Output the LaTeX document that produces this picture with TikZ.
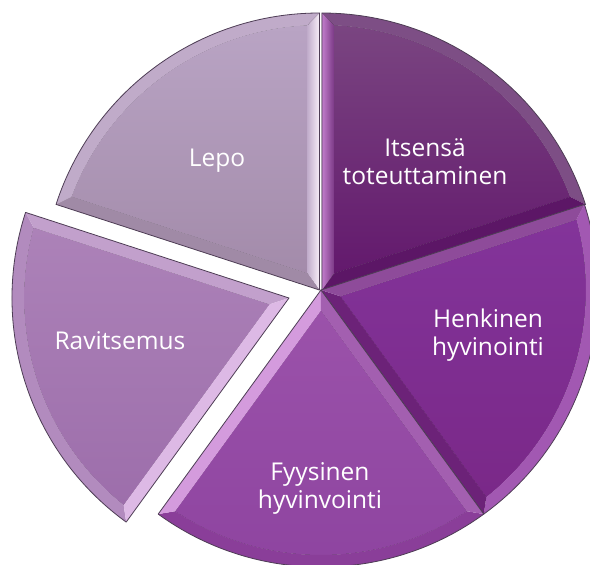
\documentclass[tikz,border=0pt]{standalone}
\usepackage{fontspec}
\setmainfont{Open Sans}
\definecolor{lepoT}{HTML}{B9A4C4}
\definecolor{lepoB}{HTML}{A38BAA}
\definecolor{lepoArc}{HTML}{C0ABC9}
\definecolor{lepoR1}{HTML}{C2AECC}
\definecolor{lepoR2}{HTML}{F8EEF8}
\definecolor{lepoLow}{HTML}{A08AA6}
\definecolor{itsT}{HTML}{7A4581}
\definecolor{itsB}{HTML}{63196D}
\definecolor{itsArc}{HTML}{7D4E85}
\definecolor{itsLow}{HTML}{5C1666}
\definecolor{itsL1}{HTML}{C17CCB}
\definecolor{itsL2}{HTML}{7B3A86}
\definecolor{henT}{HTML}{83349A}
\definecolor{henB}{HTML}{7A2888}
\definecolor{henArc}{HTML}{A258B2}
\definecolor{henLow}{HTML}{6C2278}
\definecolor{henTop}{HTML}{8E4B9A}
\definecolor{fyyT}{HTML}{9B52AA}
\definecolor{fyyB}{HTML}{8E44A0}
\definecolor{fyyArc}{HTML}{8A3E99}
\definecolor{fyyL}{HTML}{D49BDD}
\definecolor{fyyR}{HTML}{A35FB0}
\definecolor{ravT}{HTML}{AC82B8}
\definecolor{ravB}{HTML}{9D6EAB}
\definecolor{ravArc}{HTML}{B28BBE}
\definecolor{ravTop}{HTML}{C2A0CC}
\definecolor{ravR}{HTML}{DDB9E5}
\definecolor{edge}{HTML}{4E3D55}
\begin{document}
\begin{tikzpicture}[x=1pt,y=1pt,
  outline/.style={draw=edge,line width=0.8pt,line join=round},
  lbl/.style={text=white,align=center,font=\fontsize{24.5}{28}\selectfont,inner sep=0pt}]
\def\R{277}
\def\T{12}
\pgfmathsetmacro\RI{\R-\T}
\pgfmathsetmacro\D{asin(\T/\RI)}
\pgfmathsetmacro\PA{\T/sin(36)}
\newcommand\pieslice[7]{%
 \begin{scope}[shift={(#1)}]
  \pgfmathsetmacro\am{(#2+#3)/2}
  \pgfmathsetmacro\ba{#2+\D}
  \pgfmathsetmacro\bb{#3-\D}
  \fill[#4] (\am:\PA) -- (\ba:\RI) arc[start angle=\ba, end angle=\bb, radius=\RI] -- cycle;
  \fill[#5] (#2:\R) arc[start angle=#2,end angle=#3,radius=\R] -- (\bb:\RI) arc[start angle=\bb,end angle=\ba,radius=\RI] -- cycle;
  \fill[#6] (0,0) -- (#2:\R) -- (\ba:\RI) -- (\am:\PA) -- cycle;
  \fill[#7] (0,0) -- (#3:\R) -- (\bb:\RI) -- (\am:\PA) -- cycle;
  \draw[outline] (0,0) -- (#2:\R) arc[start angle=#2,end angle=#3,radius=\R] -- cycle;
 \end{scope}}
\useasboundingbox (-321,-275) rectangle (269,290);
\fill[white] (-321,-275) rectangle (269,290);
% Lepo
\pieslice{-1.5,0}{90}{162}{top color=lepoT,bottom color=lepoB}{fill=lepoArc}{left color=lepoR1,right color=lepoR2}{fill=lepoLow}
% Itsensa
\pieslice{1,0}{18}{90}{top color=itsT,bottom color=itsB}{fill=itsArc}{fill=itsLow}{left color=itsL1,right color=itsL2}
% Henkinen
\pieslice{0,0}{-54}{18}{top color=henT,bottom color=henB}{fill=henArc}{fill=henLow}{fill=henTop}
% Fyysinen
\pieslice{0,0}{-126}{-54}{top color=fyyT,bottom color=fyyB}{fill=fyyArc}{fill=fyyL}{fill=fyyR}
% Ravitsemus
\pieslice{-32,-8}{162}{234}{top color=ravT,bottom color=ravB}{fill=ravArc}{fill=ravTop}{fill=ravR}
\node[lbl] (itsensa) at (104,128) {Itsensä\\toteuttaminen};
\node[lbl] (lepo) at (-104,129) {Lepo};
\node[lbl] (henkinen) at (167,-45) {Henkinen\\hyvinointi};
\node[lbl] (ravitsemus) at (-201,-51) {Ravitsemus};
\node[lbl] (fyysinen) at (-1,-198) {Fyysinen\\hyvinvointi};
\end{tikzpicture}
\end{document}
